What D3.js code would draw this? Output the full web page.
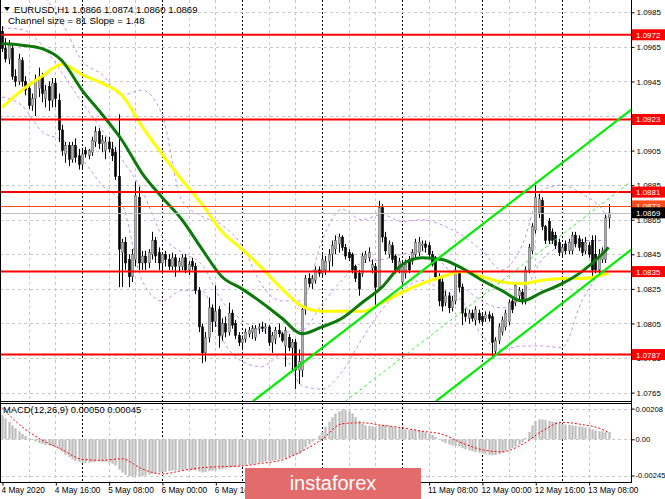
<!DOCTYPE html>
<html><head><meta charset="utf-8">
<script src="https://cdn.jsdelivr.net/npm/d3@7"></script>
<style>body{margin:0;background:#fff;overflow:hidden}svg{display:block}text{font-family:"Liberation Sans",Arial,sans-serif}</style>
</head><body><svg id="c" width="665" height="499"></svg>
<script>
// ---------- DATA ----------
const symbolTitle = "EURUSD,H1";
const headerValues = ["1.0866","1.0874","1.0860","1.0869"];
const channelText = "Channel size = 81  Slope = 1.48";
const macdTitle = "MACD(12,26,9) 0.00050 0.00045";

const open = [1.0974,1.0964,1.0958,1.0964,1.0948,1.0945,1.0957,1.0945,1.0941,1.0931,1.0935,1.0941,1.0948,1.0935,1.0942,1.0934,1.0944,1.0934,1.0917,1.0903,
1.0908,1.0900,1.0908,1.0902,1.0897,1.0905,1.0902,1.0904,1.0910,1.0916,1.0909,1.0905,1.0910,1.0906,1.0904,1.0890,1.0846,1.0852,1.0842,1.0832,
1.0842,1.0878,1.0840,1.0844,1.0840,1.0845,1.0853,1.0846,1.0840,1.0845,1.0842,1.0838,1.0843,1.0838,1.0838,1.0843,1.0836,1.0841,1.0838,1.0824,
1.0803,1.0788,1.0797,1.0814,1.0806,1.0813,1.0798,1.0805,1.0800,1.0811,1.0805,1.0798,1.0794,1.0796,1.0799,1.0800,1.0797,1.0802,1.0803,1.0802,
1.0803,1.0794,1.0796,1.0801,1.0799,1.0792,1.0797,1.0791,1.0794,1.0778,1.0778,1.0813,1.0831,1.0828,1.0830,1.0836,1.0834,1.0836,1.0841,1.0845,
1.0848,1.0851,1.0855,1.0849,1.0846,1.0845,1.0838,1.0834,1.0834,1.0842,1.0843,1.0837,1.0838,1.0826,1.0872,1.0855,1.0845,1.0850,1.0844,1.0836,
1.0829,1.0834,1.0842,1.0841,1.0845,1.0846,1.0850,1.0851,1.0850,1.0845,1.0842,1.0832,1.0829,1.0817,1.0821,1.0814,1.0818,1.0834,1.0826,1.0811,
1.0808,1.0811,1.0807,1.0811,1.0809,1.0808,1.0810,1.0809,1.0789,1.0795,1.0800,1.0803,1.0806,1.0818,1.0817,1.0821,1.0823,1.0818,1.0836,1.0847,
1.0859,1.0869,1.0876,1.0861,1.0864,1.0858,1.0856,1.0852,1.0846,1.0851,1.0847,1.0847,1.0856,1.0854,1.0852,1.0847,1.0850,1.0853,1.0845,1.0836,
1.0842,1.0842,1.0866];
const high = [1.0977,1.0970,1.0969,1.0966,1.0952,1.0961,1.0959,1.0948,1.0944,1.0938,1.0949,1.0953,1.0950,1.0943,1.0945,1.0947,1.0947,1.0938,1.0920,1.0910,
1.0910,1.0910,1.0912,1.0906,1.0906,1.0907,1.0906,1.0913,1.0919,1.0918,1.0914,1.0913,1.0913,1.0910,1.0907,1.0926,1.0854,1.0855,1.0845,1.0848,
1.0887,1.0884,1.0847,1.0847,1.0848,1.0858,1.0855,1.0849,1.0846,1.0847,1.0845,1.0846,1.0845,1.0843,1.0845,1.0845,1.0841,1.0843,1.0840,1.0826,
1.0805,1.0800,1.0820,1.0816,1.0827,1.0815,1.0808,1.0809,1.0817,1.0813,1.0807,1.0800,1.0798,1.0802,1.0803,1.0804,1.0804,1.0805,1.0806,1.0805,
1.0804,1.0800,1.0803,1.0805,1.0800,1.0803,1.0799,1.0796,1.0796,1.0790,1.0815,1.0833,1.0834,1.0833,1.0838,1.0838,1.0845,1.0844,1.0848,1.0853,
1.0856,1.0857,1.0856,1.0851,1.0848,1.0846,1.0839,1.0836,1.0846,1.0847,1.0849,1.0842,1.0840,1.0876,1.0874,1.0858,1.0853,1.0852,1.0845,1.0843,
1.0841,1.0842,1.0844,1.0848,1.0854,1.0855,1.0853,1.0853,1.0852,1.0847,1.0844,1.0834,1.0831,1.0824,1.0823,1.0821,1.0839,1.0836,1.0828,1.0814,
1.0813,1.0813,1.0815,1.0813,1.0811,1.0812,1.0812,1.0811,1.0797,1.0805,1.0809,1.0813,1.0819,1.0820,1.0829,1.0826,1.0825,1.0838,1.0851,1.0863,
1.0885,1.0880,1.0878,1.0862,1.0866,1.0860,1.0858,1.0854,1.0851,1.0853,1.0854,1.0858,1.0858,1.0856,1.0854,1.0855,1.0852,1.0856,1.0856,1.0848,
1.0849,1.0868,1.0874];
const low = [1.0962,1.0956,1.0955,1.0946,1.0942,1.0943,1.0942,1.0937,1.0929,1.0928,1.0925,1.0936,1.0933,1.0930,1.0928,1.0930,1.0930,1.0910,1.0902,1.0898,
1.0896,1.0898,1.0898,1.0894,1.0894,1.0901,1.0900,1.0902,1.0907,1.0906,1.0904,1.0900,1.0904,1.0899,1.0888,1.0826,1.0826,1.0836,1.0826,1.0829,
1.0838,1.0836,1.0836,1.0836,1.0837,1.0842,1.0840,1.0836,1.0834,1.0838,1.0836,1.0836,1.0832,1.0835,1.0836,1.0834,1.0833,1.0836,1.0822,1.0800,
1.0782,1.0783,1.0794,1.0800,1.0803,1.0791,1.0795,1.0797,1.0798,1.0802,1.0796,1.0792,1.0790,1.0794,1.0797,1.0796,1.0795,1.0799,1.0800,1.0799,
1.0792,1.0788,1.0793,1.0797,1.0794,1.0780,1.0789,1.0778,1.0767,1.0770,1.0774,1.0810,1.0826,1.0825,1.0828,1.0832,1.0832,1.0833,1.0835,1.0838,
1.0845,1.0846,1.0847,1.0842,1.0841,1.0834,1.0829,1.0821,1.0832,1.0840,1.0841,1.0834,1.0815,1.0824,1.0852,1.0845,1.0843,1.0840,1.0834,1.0834,
1.0826,1.0831,1.0834,1.0839,1.0843,1.0844,1.0847,1.0846,1.0843,1.0838,1.0830,1.0815,1.0812,1.0815,1.0811,1.0812,1.0816,1.0823,1.0804,1.0806,
1.0805,1.0806,1.0804,1.0805,1.0804,1.0806,1.0806,1.0786,1.0787,1.0793,1.0798,1.0801,1.0804,1.0811,1.0815,1.0818,1.0816,1.0816,1.0834,1.0845,
1.0857,1.0866,1.0859,1.0851,1.0851,1.0851,1.0848,1.0844,1.0844,1.0845,1.0845,1.0845,1.0849,1.0847,1.0844,1.0845,1.0843,1.0832,1.0834,1.0833,
1.0840,1.0840,1.0860];
const close = [1.0964,1.0958,1.0967,1.0948,1.0945,1.0958,1.0945,1.0940,1.0931,1.0935,1.0946,1.0948,1.0938,1.0940,1.0934,1.0944,1.0935,1.0917,1.0905,1.0908,
1.0900,1.0908,1.0901,1.0897,1.0903,1.0903,1.0905,1.0911,1.0916,1.0909,1.0911,1.0910,1.0906,1.0902,1.0890,1.0848,1.0852,1.0840,1.0832,1.0845,
1.0879,1.0840,1.0844,1.0840,1.0846,1.0853,1.0844,1.0840,1.0845,1.0842,1.0838,1.0843,1.0838,1.0841,1.0843,1.0836,1.0839,1.0838,1.0824,1.0803,
1.0788,1.0797,1.0814,1.0806,1.0812,1.0798,1.0805,1.0800,1.0811,1.0804,1.0798,1.0794,1.0796,1.0800,1.0801,1.0802,1.0802,1.0803,1.0802,1.0803,
1.0794,1.0798,1.0801,1.0799,1.0795,1.0801,1.0791,1.0794,1.0778,1.0783,1.0813,1.0831,1.0828,1.0831,1.0836,1.0834,1.0842,1.0841,1.0845,1.0850,
1.0853,1.0855,1.0849,1.0844,1.0843,1.0836,1.0831,1.0825,1.0844,1.0845,1.0846,1.0839,1.0826,1.0872,1.0855,1.0847,1.0851,1.0842,1.0836,1.0841,
1.0838,1.0839,1.0836,1.0846,1.0852,1.0852,1.0851,1.0849,1.0845,1.0839,1.0832,1.0818,1.0815,1.0821,1.0814,1.0818,1.0836,1.0826,1.0811,1.0809,
1.0811,1.0808,1.0813,1.0807,1.0806,1.0810,1.0808,1.0794,1.0795,1.0803,1.0807,1.0811,1.0817,1.0813,1.0827,1.0824,1.0819,1.0836,1.0849,1.0861,
1.0878,1.0877,1.0861,1.0853,1.0853,1.0853,1.0850,1.0846,1.0849,1.0847,1.0852,1.0856,1.0851,1.0849,1.0846,1.0852,1.0845,1.0836,1.0836,1.0845,
1.0847,1.0866,1.0869];

// indicator readings sampled every 6 bars (bar index list)
const sampleBars = [0,6,12,18,24,30,36,42,48,54,60,66,72,78,84,90,96,102,108,114,120,126,132,138,144,150,156,162,168,174,180,182];
const maGreen  = [1.0967,1.0966,1.0964,1.0957,1.0940,1.0926,1.0911,1.0892,1.0878,1.0865,1.0848,1.0832,1.0825,1.0817,1.0808,1.0799,1.0803,1.0808,1.0817,1.0826,1.0839,1.0843,1.0842,1.0837,1.0830,1.0824,1.0818,1.0823,1.0828,1.0835,1.0845,1.0849];
const maYellow = [1.0930,1.0940,1.0948,1.0955,1.0949,1.0944,1.0937,1.0919,1.0903,1.0888,1.0874,1.0858,1.0848,1.0837,1.0825,1.0815,1.0812,1.0812,1.0812,1.0817,1.0823,1.0828,1.0832,1.0835,1.0832,1.0829,1.0828,1.0830,1.0831,1.0831,1.0833,1.0834];
const bandUpper = [1.1004,1.1001,1.0995,1.0979,1.0957,1.0949,1.0937,1.0940,1.0926,1.0876,1.0867,1.0862,1.0850,1.0827,1.0818,1.0818,1.0853,1.0871,1.0865,1.0868,1.0864,1.0865,1.0862,1.0856,1.0847,1.0836,1.0850,1.0882,1.0885,1.0880,1.0871,1.0865];
const bandMiddle = [1.0976,1.0975,1.0966,1.0950,1.0933,1.0917,1.0900,1.0882,1.0856,1.0846,1.0839,1.0818,1.0807,1.0801,1.0800,1.0801,1.0816,1.0830,1.0840,1.0842,1.0845,1.0847,1.0840,1.0827,1.0818,1.0814,1.0821,1.0842,1.0850,1.0853,1.0853,1.0853];
const bandLower = [1.0936,1.0931,1.0916,1.0911,1.0900,1.0885,1.0874,1.0830,1.0818,1.0824,1.0824,1.0796,1.0783,1.0780,1.0787,1.0769,1.0767,1.0777,1.0796,1.0813,1.0824,1.0830,1.0824,1.0818,1.0798,1.0790,1.0792,1.0792,1.0791,1.0818,1.0835,1.0838];
const macdSignal = [0.00215,0.00085,-0.00005,-0.00070,-0.00135,-0.00142,-0.00132,-0.00200,-0.00235,-0.00212,-0.00192,-0.00185,-0.00180,-0.00162,-0.00140,-0.00080,0.00000,0.00105,0.00112,0.00095,0.00078,0.00055,0.00035,-0.00025,-0.00070,-0.00085,-0.00035,0.00055,0.00115,0.00100,0.00068,0.00045];

const macdHist = [0.00164,0.00142,0.00118,0.00095,0.00075,0.00055,0.00038,0.00022,0.00008,-0.00005,
-0.00015,-0.00025,-0.00032,-0.00038,-0.00042,-0.00046,-0.00052,-0.00065,-0.00085,-0.00105,
-0.00120,-0.00135,-0.00145,-0.00152,-0.00158,-0.00160,-0.00158,-0.00155,-0.00152,-0.00150,
-0.00150,-0.00152,-0.00158,-0.00165,-0.00178,-0.00205,-0.00225,-0.00240,-0.00250,-0.00252,
-0.00245,-0.00248,-0.00250,-0.00245,-0.00240,-0.00232,-0.00228,-0.00225,-0.00222,-0.00220,
-0.00215,-0.00212,-0.00210,-0.00208,-0.00207,-0.00206,-0.00206,-0.00208,-0.00212,-0.00218,
-0.00225,-0.00222,-0.00215,-0.00212,-0.00208,-0.00205,-0.00202,-0.00198,-0.00192,-0.00188,
-0.00185,-0.00182,-0.00178,-0.00175,-0.00172,-0.00168,-0.00165,-0.00160,-0.00155,-0.00150,
-0.00148,-0.00145,-0.00142,-0.00138,-0.00132,-0.00126,-0.00120,-0.00112,-0.00108,-0.00100,
-0.00080,-0.00055,-0.00035,-0.00015,0.00005,0.00025,0.00050,0.00085,0.00120,0.00150,
0.00175,0.00190,0.00198,0.00200,0.00192,0.00175,0.00150,0.00125,0.00105,0.00095,
0.00092,0.00088,0.00085,0.00092,0.00098,0.00095,0.00090,0.00085,0.00080,0.00075,
0.00070,0.00068,0.00065,0.00063,0.00062,0.00060,0.00055,0.00048,0.00040,0.00030,
0.00015,0.00000,-0.00015,-0.00025,-0.00035,-0.00042,-0.00045,-0.00050,-0.00060,-0.00068,
-0.00075,-0.00080,-0.00085,-0.00090,-0.00095,-0.00100,-0.00105,-0.00108,-0.00106,-0.00100,
-0.00090,-0.00080,-0.00070,-0.00060,-0.00048,-0.00035,-0.00020,0.00010,0.00050,0.00095,
0.00125,0.00135,0.00135,0.00130,0.00125,0.00120,0.00118,0.00112,0.00105,0.00100,
0.00098,0.00095,0.00092,0.00088,0.00085,0.00080,0.00075,0.00068,0.00060,0.00055,
0.00055,0.00048,0.00050];

const levels = [1.0972, 1.0923, 1.0881, 1.0835, 1.0787];
const askPrice = 1.0873, bidPrice = 1.0869;
const channelUpper = [[75.3, 1.0760], [189, 1.0929]];
const channelLower = [[130.2, 1.0760], [189, 1.0848]];
const channelMid   = [[103.0, 1.0760], [189, 1.08875]];

const priceTicks = [1.0985,1.0965,1.0945,1.0925,1.0905,1.0885,1.0865,1.0845,1.0825,1.0805,1.0785,1.0765];
const macdTicks = [0.00208, 0, -0.00245];
const macdTickLabels = ["0.00208","0.00","-0.00245"];
const timeTickBars = [0,16,32,48,64,80,96,112,128,144,160,176];
const timeTickLabels = ["4 May 2020","4 May 16:00","5 May 08:00","6 May 00:00","6 May 16:00","7 May 08:00","8 May 00:00","8 May 16:00","11 May 08:00","12 May 00:00","12 May 16:00","13 May 08:00"];
const dayStartBars = [24,48,72,96,120,144,168];
const watermarkText = "instaforex";

// ---------- LAYOUT ----------
const plotL = 0, plotR = 631, mainT = 0, mainB = 401, macdT = 403, macdB = 482;
const wm = {x: 245, y: 468, w: 176, h: 31};
const svg = d3.select("#c");
const x = d3.scaleLinear().domain([0, 182]).range([2, 2 + 182 * 3.333]);
const y = d3.scaleLinear().domain([1.0765, 1.0985]).range([392.6, 12.3]);
const ym = d3.scaleLinear().domain([-0.00245, 0.00208]).range([475.5, 408.6]);
const px = v => Math.round(v) + 0.5;

svg.append("rect").attr("width", 665).attr("height", 499).attr("fill", "#fff");
const defs = svg.append("defs");
defs.append("clipPath").attr("id", "cm").append("rect").attr("x", plotL).attr("y", mainT).attr("width", plotR - plotL).attr("height", mainB - mainT);
defs.append("clipPath").attr("id", "cd").append("rect").attr("x", plotL).attr("y", macdT).attr("width", plotR - plotL).attr("height", macdB - macdT);

const gm = svg.append("g").attr("clip-path", "url(#cm)");
const gd = svg.append("g").attr("clip-path", "url(#cd)");

// grids
const gridBars = d3.range(8, 183, 8).filter(b => !dayStartBars.includes(b));
[gm, gd].forEach((g, k) => {
  const t = k === 0 ? mainT : macdT, b = k === 0 ? mainB : macdB;
  g.selectAll(null).data(gridBars).join("line")
    .attr("x1", d => px(x(d))).attr("x2", d => px(x(d))).attr("y1", t).attr("y2", b)
    .attr("stroke", "#c8c8c8").attr("stroke-dasharray", "3,3");
  g.selectAll(null).data(dayStartBars).join("line")
    .attr("x1", d => px(x(d))).attr("x2", d => px(x(d))).attr("y1", t).attr("y2", b)
    .attr("stroke", "#000").attr("stroke-dasharray", "2,2");
});
gm.selectAll(null).data(priceTicks).join("line")
  .attr("x1", plotL).attr("x2", plotR).attr("y1", d => px(y(d))).attr("y2", d => px(y(d)))
  .attr("stroke", "#c8c8c8").attr("stroke-dasharray", "3,3");
gd.selectAll(null).data(macdTicks).join("line")
  .attr("x1", plotL).attr("x2", plotR).attr("y1", d => px(ym(d))).attr("y2", d => px(ym(d)))
  .attr("stroke", "#c8c8c8").attr("stroke-dasharray", "3,3");

// Bollinger bands
const sLine = arr => d3.line().x((d, k) => x(sampleBars[k])).y(d => y(d)).curve(d3.curveMonotoneX)(arr);
[bandUpper, bandMiddle, bandLower].forEach(arr => {
  gm.append("path").attr("d", sLine(arr)).attr("fill", "none")
    .attr("stroke", "#c78ef0").attr("stroke-width", 1).attr("stroke-dasharray", "3,3");
});

// candles
const idx = d3.range(close.length);
gm.selectAll(null).data(idx).join("line")
  .attr("x1", i => px(x(i))).attr("x2", i => px(x(i)))
  .attr("y1", i => y(high[i])).attr("y2", i => y(low[i]))
  .attr("stroke", "#000").attr("stroke-width", 1);
gm.selectAll(null).data(idx).join("rect")
  .attr("x", i => Math.round(x(i)) - 0.6).attr("width", 2.2)
  .attr("y", i => y(Math.max(open[i], close[i])))
  .attr("height", i => Math.max(1, Math.abs(y(open[i]) - y(close[i]))))
  .attr("fill", i => close[i] >= open[i] ? "#b0b0b0" : "#000")
  .attr("stroke", i => close[i] >= open[i] ? "#555" : "#000").attr("stroke-width", 0.5);

// moving averages
gm.append("path").attr("d", sLine(maYellow)).attr("fill", "none").attr("stroke", "#ffff00").attr("stroke-width", 3);
gm.append("path").attr("d", sLine(maGreen)).attr("fill", "none").attr("stroke", "#0b7a0b").attr("stroke-width", 3);

// bid / ask lines
gm.append("line").attr("x1", plotL).attr("x2", plotR).attr("y1", px(y(bidPrice))).attr("y2", px(y(bidPrice))).attr("stroke", "#c0c0c0");
gm.append("line").attr("x1", plotL).attr("x2", plotR).attr("y1", px(y(askPrice))).attr("y2", px(y(askPrice))).attr("stroke", "#ff4a1c");

// levels
gm.selectAll(null).data(levels).join("line")
  .attr("x1", plotL).attr("x2", plotR).attr("y1", d => y(d)).attr("y2", d => y(d))
  .attr("stroke", "#ff0000").attr("stroke-width", 2);

// channel
const ext = pts => pts.map(([b, p]) => [x(b), y(p)]);
[channelUpper, channelLower].forEach(pts => {
  gm.append("path").attr("d", d3.line()(ext(pts))).attr("stroke", "#00ee00").attr("stroke-width", 2.2).attr("fill", "none");
});
gm.append("path").attr("d", d3.line()(ext(channelMid))).attr("stroke", "#33ee33").attr("stroke-width", 1).attr("stroke-dasharray", "3,3").attr("fill", "none");

// MACD
gd.selectAll(null).data(idx).join("rect")
  .attr("x", i => Math.round(x(i)) - 0.6).attr("width", 2.2)
  .attr("y", i => Math.min(ym(0), ym(macdHist[i])))
  .attr("height", i => Math.abs(ym(macdHist[i]) - ym(0)))
  .attr("fill", "#bcbcbc");
gd.append("path").attr("d", d3.line().x((d, k) => x(sampleBars[k])).y(d => ym(d)).curve(d3.curveMonotoneX)(macdSignal))
  .attr("fill", "none").attr("stroke", "#ff0000").attr("stroke-width", 1).attr("stroke-dasharray", "2,2");

// frame
svg.append("line").attr("x1", plotR + 0.5).attr("x2", plotR + 0.5).attr("y1", 0).attr("y2", macdB).attr("stroke", "#000");
svg.append("line").attr("x1", 0).attr("x2", plotR).attr("y1", mainB + 0.5).attr("y2", mainB + 0.5).attr("stroke", "#000");
svg.append("line").attr("x1", 0).attr("x2", plotR).attr("y1", macdT + 0.5).attr("y2", macdT + 0.5).attr("stroke", "#000");
svg.append("line").attr("x1", 0).attr("x2", plotR + 1).attr("y1", macdB + 0.5).attr("y2", macdB + 0.5).attr("stroke", "#000");
svg.append("line").attr("x1", 0.5).attr("x2", 0.5).attr("y1", 0).attr("y2", macdB).attr("stroke", "#000");

// axes
const ay = svg.append("g").attr("transform", `translate(${plotR + 0.5},0)`)
  .call(d3.axisRight(y).tickValues(priceTicks).tickFormat(d3.format(".4f")).tickSize(3).tickPadding(2));
const am = svg.append("g").attr("transform", `translate(${plotR + 0.5},0)`)
  .call(d3.axisRight(ym).tickValues(macdTicks).tickFormat((d, k) => macdTickLabels[k]).tickSize(3).tickPadding(1));
const ax = svg.append("g").attr("transform", `translate(0,${macdB + 0.5})`)
  .call(d3.axisBottom(x).tickValues(timeTickBars).tickFormat((d, k) => timeTickLabels[k]).tickSize(3).tickPadding(2));
[ay, am, ax].forEach(g => {
  g.select(".domain").remove();
  g.selectAll("text").attr("font-size", "8px").attr("fill", "#000").attr("font-family", "Liberation Sans, Arial, sans-serif");
  g.selectAll("line").attr("stroke", "#000");
});
am.selectAll("text").attr("font-size", "7.6px");
ax.selectAll("text").attr("text-anchor", "start").attr("dx", "-1").attr("font-size", "8.3px");
ax.selectAll(".tick line").attr("transform", "translate(0.5,0)");
// labels lying completely under the watermark panel are not visible in the chart
ax.selectAll(".tick text").filter(d => x(d) > wm.x && x(d) < wm.x + wm.w).remove();
// price tick label fully covered by the level tag just below it (1.0925 under 1.0923)
ay.selectAll(".tick text").filter(d => levels.some(l => d - l > 0 && d - l < 0.00025)).remove();

// right-side price tags
const tag = (p, bg, fg) => {
  const yy = y(p);
  svg.append("rect").attr("x", plotR + 1).attr("y", yy - 5.5).attr("width", 33).attr("height", 11).attr("fill", bg);
  svg.append("text").attr("x", plotR + 5).attr("y", yy + 3).attr("font-size", "8px").attr("fill", fg).text(p.toFixed(4));
};
levels.forEach(p => tag(p, "#ff0000", "#fff"));
tag(askPrice, "#ff4a1c", "#fff");
tag(bidPrice, "#000", "#fff");

// header texts
svg.append("path").attr("d", "M4,7 L10,7 L7,11 Z").attr("fill", "#000");
svg.append("text").attr("x", 14).attr("y", 13).attr("font-size", "9.6px").attr("fill", "#000")
  .text(symbolTitle + "  " + headerValues.join(" "));
svg.append("text").attr("x", 8).attr("y", 24).attr("font-size", "9.8px").attr("fill", "#000").text(channelText);
svg.append("text").attr("x", 3).attr("y", 413).attr("font-size", "9.4px").attr("fill", "#000").text(macdTitle);

// watermark
svg.append("rect").attr("x", wm.x).attr("y", wm.y).attr("width", wm.w).attr("height", wm.h).attr("fill", "#e36b6b");
svg.append("text").attr("x", 333).attr("y", 490).attr("text-anchor", "middle").attr("font-size", "20px")
  .attr("fill", "#fff").attr("font-family", "Open Sans, Liberation Sans, sans-serif").text(watermarkText);
</script></body></html>
